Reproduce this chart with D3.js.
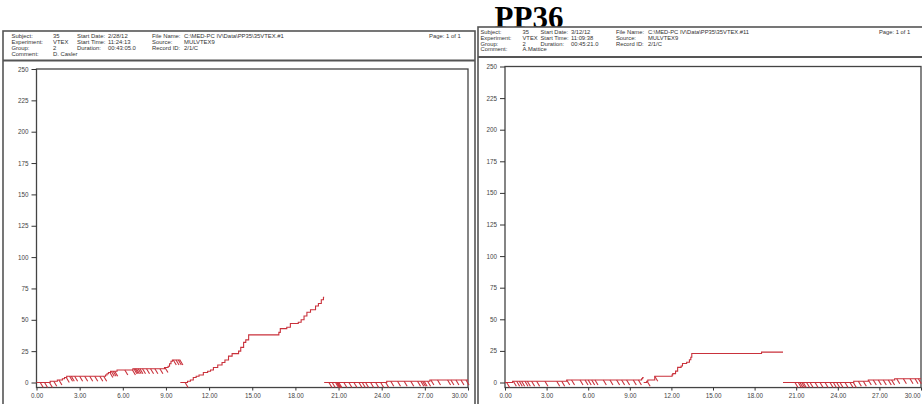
<!DOCTYPE html>
<html>
<head>
<meta charset="utf-8">
<script src="https://cdn.jsdelivr.net/npm/d3@7"></script>
<style>
  body { margin: 0; background: #fff; }
  svg { display: block; }
  .info text, .tick text { font-family: Arial, "Liberation Sans", sans-serif; }
</style>
</head>
<body>
<svg id="chart" width="922" height="404"></svg>
<script>
// ---- shared labels and ticks ----
const pageTitle = "PP36";
const timeTicks = [0, 3, 6, 9, 12, 15, 18, 21, 24, 27, 30];       // minutes
const countTicks = [0, 25, 50, 75, 100, 125, 150, 175, 200, 225, 250]; // cumulative responses
const pageLabel = "Page: 1 of 1";

// ---- session 1 (2/28/12) header ----
const s1Row1 = ["Subject:", "35", "Start Date:", "2/28/12", "File Name:", "C:\\MED-PC IV\\Data\\PP35\\35VTEX.#1"];
const s1Row2 = ["Experiment:", "VTEX", "Start Time:", "11:24:13", "Source:", "MULVTEX9"];
const s1Row3 = ["Group:", "2", "Duration:", "00:43:05.0", "Record ID:", "2/1/C"];
const s1Row4 = ["Comment:", "D. Casler"];

// ---- session 1 cumulative record: [minute, count] at each step ----
const s1CompA = [[0,0],[0.95,1],[1.45,2],[1.8,3],[1.95,4],[2.1,5],[4.8,6],[4.9,7],[5.0,8],[5.15,9],
                 [5.6,10],[6.7,11],[8.9,12],[9.15,13],[9.25,15],[9.35,17],[9.45,18],[10.0,18]];
const s1CompB = [[10.0,0],[10.5,1],[10.7,2],[10.9,4],[11.1,5],[11.3,6],[11.6,8],[11.9,9],[12.1,10],
                 [12.3,12],[12.6,14],[12.9,16],[13.1,18],[13.35,21],[13.6,23],[14.05,25],[14.2,28],
                 [14.4,32],[14.55,34],[14.75,38],[16.85,40],[16.95,43],[17.4,44],[17.65,47],[18.2,48],
                 [18.4,50],[18.6,53],[18.8,56],[19.05,58],[19.4,61],[19.6,63],[19.8,66],[19.95,68],[20.0,68]];
const s1CompC = [[20.0,0],[24.35,1],[27.35,2],[30.0,2]];
// reinforcer marks (minutes)
const s1RfA = [0.26,0.56,0.9,1.2,1.56,2.07,2.3,2.42,2.65,3.0,3.35,3.7,4.05,4.4,4.67,5.1,5.2,5.33,5.44,
               6.14,6.67,6.77,6.86,6.95,7.07,7.19,7.37,7.65,7.93,8.23,8.58,8.93,9.51,9.7,9.86,9.97];
const s1RfB = [10.33];
const s1RfC = [20.33,20.56,20.79,20.86,20.9,20.95,21.02,21.37,21.72,22.07,22.42,22.65,22.88,23.23,23.58,
               23.93,24.28,24.63,25.1,25.56,26.02,26.49,26.72,26.84,26.95,27.19,27.42,27.88,28.58,
               28.81,29.16,29.51,29.86];

// ---- session 2 (3/12/12) header ----
const s2Row1 = ["Subject:", "35", "Start Date:", "3/12/12", "File Name:", "C:\\MED-PC IV\\Data\\PP35\\35VTEX.#11"];
const s2Row2 = ["Experiment:", "VTEX", "Start Time:", "11:09:38", "Source:", "MULVTEX9"];
const s2Row3 = ["Group:", "2", "Duration:", "00:45:21.0", "Record ID:", "2/1/C"];
const s2Row4 = ["Comment:", "A.Mattice"];

// ---- session 2 cumulative record ----
const s2CompA = [[0,0],[0.55,1],[4.45,2],[9.85,3],[9.93,4],[10.0,4]];
const s2CompB = [[10.0,0],[10.22,1],[10.3,2],[10.8,5],[12.05,6],[12.1,7],[12.3,9],[12.45,12],[12.7,13],
                 [12.8,15],[13.1,16],[13.3,18],[13.4,20],[13.47,23],[18.5,24],[20.05,24]];
const s2CompC = [[20.05,0],[25.15,1],[26.2,2],[28.1,3],[30.0,3]];
const s2RfA = [0.12,0.6,0.84,1.03,1.2,1.44,1.61,1.92,2.28,2.88,3.73,4.09,4.45,4.8,5.41,5.77,6.0,
               6.25,6.49,7.09,7.57,8.05,8.41,8.77,9.25,9.62];
const s2RfB = [10.25,10.8];
const s2RfC = [20.91,21.15,21.27,21.4,21.51,21.75,22.0,22.36,22.72,23.08,23.44,23.68,23.92,24.16,24.52,
               24.88,25.12,25.48,25.84,26.2,26.56,26.92,27.28,27.64,27.88,28.25,28.73,29.21,29.57,29.81];

// ---- layout ----
const TRACE = "#c9313b";
const FRAME = "#555";
const svg = d3.select("#chart");

const panels = [
  { rows: [s1Row1, s1Row2, s1Row3, s1Row4], comps: [s1CompA, s1CompB, s1CompC], rfs: [s1RfA, s1RfB, s1RfC],
    frameL: 3, frameR: 475, frameT: 31, sepY: 60.5, infoSize: 5.9,
    rowY: [38.3, 44.1, 49.9, 55.7], colX: [11.5, 53, 77, 108, 152, 184], pageX: 429,
    plotL: 36.5, plotR: 468, plotT: 69, zeroY: 382.5 },
  { rows: [s2Row1, s2Row2, s2Row3, s2Row4], comps: [s2CompA, s2CompB, s2CompC], rfs: [s2RfA, s2RfB, s2RfC],
    frameL: 478, frameR: 930, frameT: 27, sepY: 57, infoSize: 5.8,
    rowY: [34, 39.8, 45.6, 51.4], colX: [480.5, 522.5, 540.5, 571, 616, 648], pageX: 879,
    plotL: 505, plotR: 921, plotT: 66.5, zeroY: 382.5 }
];

// page title sits behind the second header box
svg.append("text")
  .attr("x", 529).attr("y", 28)
  .attr("text-anchor", "middle")
  .attr("font-family", "'Liberation Serif', 'Times New Roman', serif")
  .attr("font-weight", "bold")
  .attr("font-size", 31)
  .attr("fill", "#000")
  .text(pageTitle);

function valueAt(steps, t) {
  let v = steps[0][1];
  for (const [tt, vv] of steps) if (tt <= t) v = vv;
  return v;
}

panels.forEach(p => {
  const g = svg.append("g");

  // outer frame with white header box
  g.append("rect")
    .attr("x", p.frameL).attr("y", p.frameT)
    .attr("width", p.frameR - p.frameL).attr("height", 420 - p.frameT)
    .attr("fill", "#fff").attr("stroke", FRAME).attr("stroke-width", 1.6);
  g.append("line")
    .attr("x1", p.frameL).attr("x2", p.frameR)
    .attr("y1", p.sepY).attr("y2", p.sepY)
    .attr("stroke", FRAME).attr("stroke-width", 2);

  // header text
  const info = g.append("g").attr("class", "info")
    .attr("font-size", p.infoSize).attr("fill", "#333");
  p.rows.forEach((row, ri) => {
    row.forEach((txt, ci) => {
      info.append("text").attr("x", p.colX[ci]).attr("y", p.rowY[ri]).text(txt);
    });
  });
  info.append("text").attr("x", p.pageX).attr("y", p.rowY[0]).text(pageLabel);

  // scales
  const x = d3.scaleLinear().domain([0, 30]).range([p.plotL, p.plotR]);
  const y = d3.scaleLinear().domain([0, 250]).range([p.zeroY, p.plotT]);
  const axisY = y(-4);

  // plot box
  g.append("rect")
    .attr("x", p.plotL).attr("y", p.plotT)
    .attr("width", p.plotR - p.plotL).attr("height", axisY - p.plotT)
    .attr("fill", "none").attr("stroke", "#444").attr("stroke-width", 1.3);

  // axes
  const ay = g.append("g").attr("transform", `translate(${p.plotL},0)`)
    .call(d3.axisLeft(y).tickValues(countTicks).tickSize(5).tickPadding(3).tickFormat(d3.format("d")));
  const ax = g.append("g").attr("transform", `translate(0,${axisY})`)
    .call(d3.axisBottom(x).tickValues(timeTicks).tickSize(3).tickPadding(3).tickFormat(d3.format(".2f")));
  [ay, ax].forEach(a => {
    a.select(".domain").remove();
    a.selectAll(".tick line").attr("stroke", "#333");
    a.selectAll(".tick text").attr("font-size", 6.3).attr("fill", "#444");
  });
  ax.selectAll(".tick text").filter(d => d === 30).attr("text-anchor", "end").attr("dx", -1);

  // cumulative record, one pen trace per component
  const line = d3.line().x(d => x(d[0])).y(d => y(d[1])).curve(d3.curveStepAfter);
  p.comps.forEach((comp, k) => {
    g.append("path").datum(comp)
      .attr("d", line)
      .attr("fill", "none").attr("stroke", TRACE).attr("stroke-width", 1.1);
    // reinforcer deflections
    g.append("g").selectAll("line").data(p.rfs[k]).join("line")
      .attr("x1", t => x(t)).attr("y1", t => y(valueAt(comp, t)))
      .attr("x2", t => x(t) + 3).attr("y2", t => y(valueAt(comp, t)) + 5)
      .attr("stroke", TRACE).attr("stroke-width", 1.1);
  });
});
</script>
</body>
</html>
